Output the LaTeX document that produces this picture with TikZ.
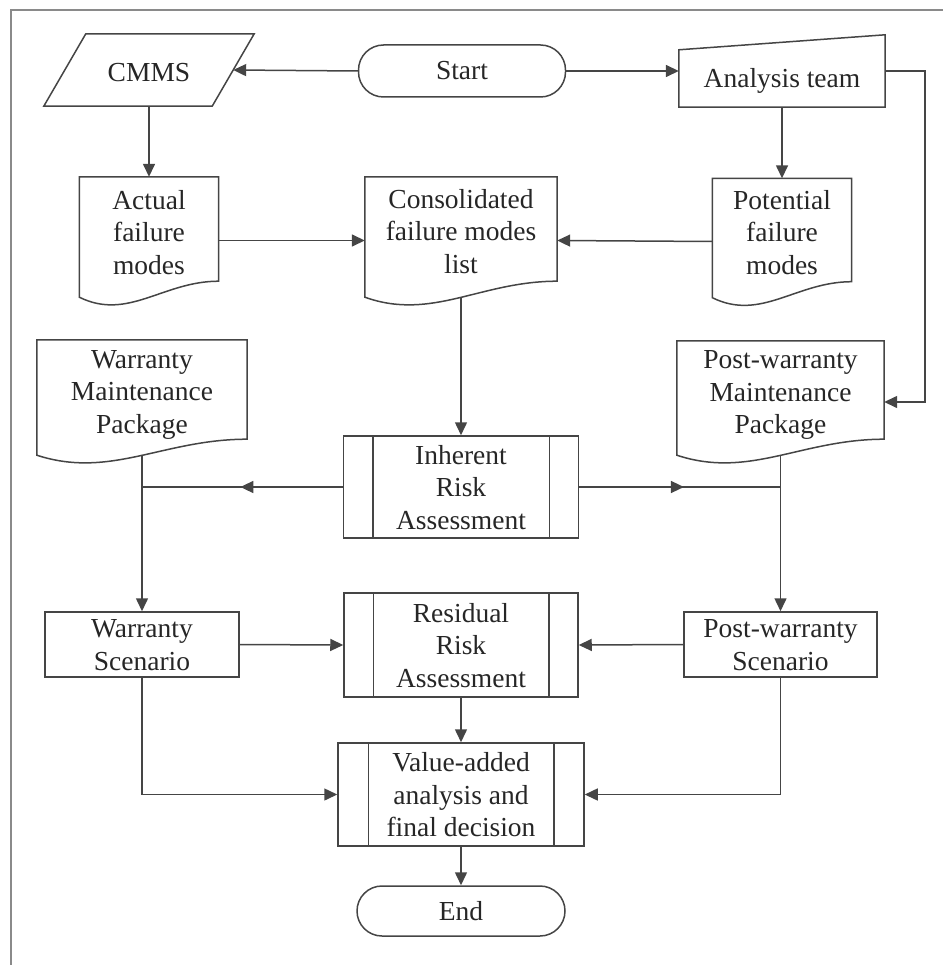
\documentclass[tikz,border=0pt]{standalone}
\usepackage{fontspec}
\setmainfont{Liberation Serif}
\usetikzlibrary{arrows.meta,calc,decorations.markings}
\definecolor{ln}{HTML}{454545}
\definecolor{tx}{HTML}{262626}
\definecolor{fr}{HTML}{8A8A8A}
\newcommand\mylines[2]{\raisebox{#1}[\height][\depth]{\begin{tabular}{@{}c@{}}#2\end{tabular}}}
\newcommand\docoutline[1]{%
  \draw[bx] (#1.north west) -- (#1.north east) -- ($(#1.south east)+(0,-23)$)
    .. controls ($(#1.south west)!0.6!(#1.south east)+(0,-23)$) and ($(#1.south west)!0.35!(#1.south east)+(0,17)$)
    .. ($(#1.south west)+(0,-7)$) -- cycle;}
\newcommand\predefbars[2]{%
  \draw[bx] ([xshift=#2]#1.north west) -- ([xshift=#2]#1.south west);
  \draw[bx] ([xshift=-#2]#1.north east) -- ([xshift=-#2]#1.south east);}
\begin{document}
\begin{tikzpicture}[x=1pt,y=-1pt,
  every node/.style={inner sep=0pt, align=center, text=tx, font=\fontsize{27.5}{32.5}\selectfont},
  bx/.style={draw=ln, line width=1.5pt},
  pill/.style={bx, rounded corners=25pt},
  procbox/.style={bx},
  con/.style={draw=ln, line width=1.5pt},
  arr/.style={con, -{Triangle[length=13pt,width=12pt]}},
  midarr/.style={con, postaction={decorate, decoration={markings,
      mark=at position #1 with {\arrow{Triangle[length=13pt,width=12pt]}}}}}
]
\useasboundingbox (0,0) rectangle (943,965);
\draw[fr, line width=2pt] (11,965) -- (11,10) -- (943,10);

% top row
\node[pill, minimum width=207pt, minimum height=52pt] (start) at (462,71) {Start};
\node[minimum width=168pt, minimum height=72pt] (cmms) at (149,70) {\raisebox{-3pt}[\height][\depth]{CMMS}};
\draw[bx] ($(cmms.north west)+(21,0)$) -- ($(cmms.north east)+(21,0)$) -- ($(cmms.south east)+(-21,0)$) -- ($(cmms.south west)+(-21,0)$) -- cycle;
\node[minimum width=206pt, minimum height=72pt] (ateam) at (782,71) {\raisebox{-10pt}[\height][\depth]{Analysis team}};
\draw[bx] (ateam.south west) -- ($(ateam.north west)+(0,15)$) -- (ateam.north east) -- (ateam.south east) -- cycle;

% documents
\node[minimum width=139pt, minimum height=127pt] (actual) at (149,240.5) {\mylines{5pt}{Actual\\failure\\modes}};
\docoutline{actual}
\node[minimum width=192pt, minimum height=127pt] (cons) at (461,240.5) {\mylines{6pt}{Consolidated\\failure modes\\list}};
\docoutline{cons}
\node[minimum width=139pt, minimum height=126pt] (pot) at (782,241.5) {\mylines{6pt}{Potential\\failure\\modes}};
\docoutline{pot}
\node[minimum width=210pt, minimum height=122pt] (wmp) at (142,401) {\mylines{7pt}{Warranty\\Maintenance\\Package}};
\docoutline{wmp}
\node[minimum width=207pt, minimum height=121pt] (pmp) at (780.5,401.5) {\mylines{7pt}{Post-warranty\\Maintenance\\Package}};
\docoutline{pmp}

% processes
\node[procbox, minimum width=235pt, minimum height=102pt] (inh) at (461,487) {\mylines{-3pt}{Inherent\\Risk\\Assessment}};
\predefbars{inh}{30pt}
\node[procbox, minimum width=234pt, minimum height=104pt] (res) at (461,645) {\mylines{-3pt}{Residual\\Risk\\Assessment}};
\predefbars{res}{30pt}
\node[procbox, minimum width=246pt, minimum height=103pt] (va) at (461,794.5) {\mylines{-3pt}{Value-added\\analysis and\\final decision}};
\predefbars{va}{31pt}

% scenarios
\node[bx, minimum width=194pt, minimum height=65pt] (ws) at (142,644.5) {\mylines{-3pt}{Warranty\\Scenario}};
\node[bx, minimum width=193pt, minimum height=65pt] (pws) at (780.5,644.5) {\mylines{-3pt}{Post-warranty\\Scenario}};

\node[pill, minimum width=208pt, minimum height=50pt] (end) at (461,911) {End};

% connectors
\draw[arr] (start.west) -- (cmms.east);
\draw[arr] (start.east) -- (ateam.west);
\draw[arr] (cmms.south) -- (actual.north);
\draw[arr] (ateam.south) -- (pot.north);
\coordinate (bp) at (925,402);
\draw[arr] (ateam.east) -| (bp) -- (bp -| pmp.east);
\draw[arr] (actual.east) -- (cons.west);
\draw[arr] (pot.west) -- (cons.east);
\draw[arr] ([yshift=6pt]cons.south) -- (inh.north);
\draw[midarr=0.51] (inh.west) -- (inh.west -| wmp.south);
\draw[midarr=0.52] (inh.east) -- (inh.east -| pmp.south);
\draw[arr] ([yshift=6pt]wmp.south) -- (ws.north);
\draw[arr] ([yshift=6pt]pmp.south) -- (pws.north);
\draw[arr] (ws.east) -- (res.west);
\draw[arr] (pws.west) -- (res.east);
\draw[arr] (ws.south) |- (va.west);
\draw[arr] (pws.south) |- (va.east);
\draw[arr] (res.south) -- (va.north);
\draw[arr] (va.south) -- (end.north);
\end{tikzpicture}
\end{document}
